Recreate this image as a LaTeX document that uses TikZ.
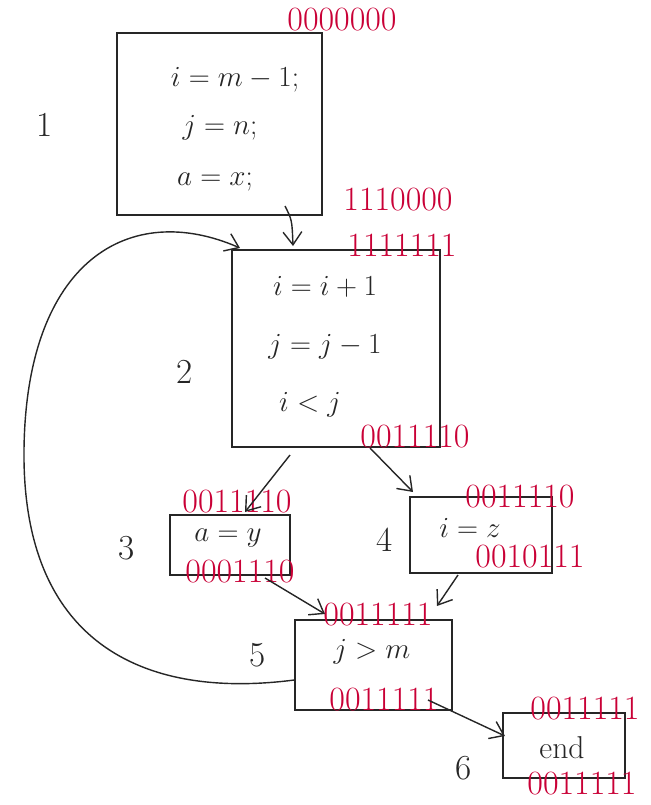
\documentclass[tikz,border=0pt]{standalone}
\usetikzlibrary{arrows.meta}
\newdimen\pxu \pxu=0.03cm
\begin{document}
\begin{tikzpicture}[x=0.03cm,y=-0.03cm,
  blk/.style={draw=black!85,line width=1.3pt,inner sep=0pt},
  code/.style={font=\fontsize{27}{29}\selectfont,text=black!85},
  num/.style={font=\fontsize{30}{32}\selectfont,text=black!85},
  bits/.style={font=\fontsize{29}{30}\selectfont,text=purple!85!red},
  edge/.style={draw=black!85,line width=1.2pt,-{Straight Barb[length=11pt,width=16pt]}}]
\useasboundingbox (0,0) rectangle (651,805);
% blocks
\node[blk,minimum width=205\pxu,minimum height=182\pxu] (b1) at (219.5,124) {};
\node[blk,minimum width=208\pxu,minimum height=197\pxu] (b2) at (336,348.5) {};
\node[blk,minimum width=120\pxu,minimum height=60\pxu] (b3) at (230,545) {};
\node[blk,minimum width=142\pxu,minimum height=76\pxu] (b4) at (481,535) {};
\node[blk,minimum width=157\pxu,minimum height=90\pxu] (b5) at (373.5,665) {};
\node[blk,minimum width=122\pxu,minimum height=65\pxu] (b6) at (564,745.5) {};
% code
\node[code] (t11) at (235,80) {$i = m-1;$};
\node[code] (t12) at (220,128) {$j = n;$};
\node[code] (t13) at (215,182) {$a = x;$};
\node[code] (t21) at (325,287) {$i = i+1$};
\node[code] (t22) at (325,347) {$j = j-1$};
\node[code] (t23) at (310,405) {$i < j$};
\node[code] (t3) at (228,538) {$a = y$};
\node[code] (t4) at (470,528) {$i = z$};
\node[code] (t5) at (372,652) {$j > m$};
\node[code] (t6) at (562,748) {end};
% labels
\node[num] (l1) at (45,125) {1};
\node[num] (l2) at (185,372) {2};
\node[num] (l3) at (127,548) {3};
\node[num] (l4) at (385,540) {4};
\node[num] (l5) at (258,655) {5};
\node[num] (l6) at (464,768) {6};
% bit vectors
\node[bits] (v1a) at (342,20) {0000000};
\node[bits] (v1b) at (398,200) {1110000};
\node[bits] (v2a) at (402,245) {1111111};
\node[bits] (v2b) at (415,437) {0011110};
\node[bits] (v3a) at (237,502) {0011110};
\node[bits] (v3b) at (240,572) {0001110};
\node[bits] (v4a) at (520,497) {0011110};
\node[bits] (v4b) at (530,557) {0010111};
\node[bits] (v5a) at (378,615) {0011111};
\node[bits] (v5b) at (384,700) {0011111};
\node[bits] (v6a) at (585,709) {0011111};
\node[bits] (v6b) at (582,784) {0011111};
% edges
\coordinate (e12s) at (285,206);
\coordinate (e12t) at (293,246);
\draw[edge] (e12s) .. controls (292,220) .. (e12t);
\coordinate (back) at ([yshift=-15\pxu]b5.west);
\coordinate (backt) at (240,248);
\draw[edge] (back) .. controls (140,700) and (22,640) .. (24,450)
  .. controls (26,260) and (130,200) .. (backt);
\coordinate (e23s) at (290,455);
\coordinate (e23t) at (245,512);
\draw[edge] (e23s) -- (e23t);
\coordinate (e24s) at (370,448);
\coordinate (e24t) at (413,492);
\draw[edge] (e24s) -- (e24t);
\coordinate (e35s) at (265,578);
\coordinate (e35t) at (325,614);
\draw[edge] (e35s) -- (e35t);
\coordinate (e45s) at (458,575);
\coordinate (e45t) at (437,606);
\draw[edge] (e45s) -- (e45t);
\coordinate (e56s) at (428,700);
\coordinate (e56t) at (505,736);
\draw[edge] (e56s) -- (e56t);
\end{tikzpicture}
\end{document}
